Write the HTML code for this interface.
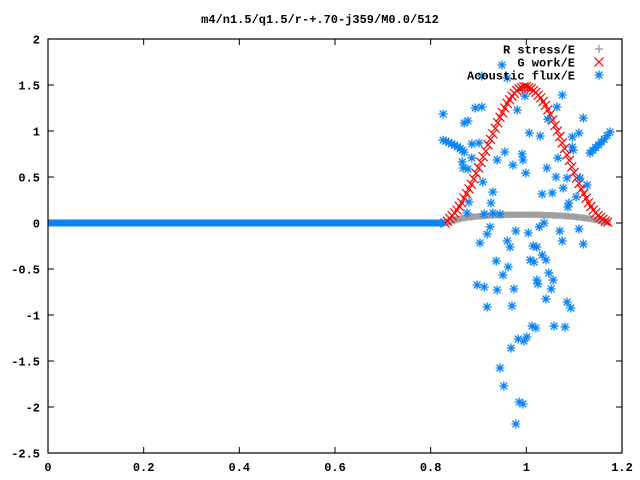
<!DOCTYPE html>
<html><head><meta charset="utf-8"><style>
html,body{margin:0;padding:0;background:#fff}
svg{display:block}
text{font-family:"Liberation Mono",monospace;font-size:12px;font-weight:bold;fill:#000}
</style></head><body>
<svg id="chart" width="640" height="480" xmlns="http://www.w3.org/2000/svg">
<rect x="0" y="0" width="640" height="480" fill="#fff"/>
<text x="320" y="23" text-anchor="middle">m4/n1.5/q1.5/r-+.70-j359/M0.0/512</text>
<g id="axes"></g>
<g id="series-grey"></g>
<g id="series-red"></g>
<g id="series-blue"></g>
<g id="legend"></g>
<rect x="48" y="39" width="574" height="414" fill="none" stroke="#000" stroke-width="1.2"/>
</svg>
<script>
const xTicks=[0,0.2,0.4,0.6,0.8,1,1.2];
const xTickLabels=["0","0.2","0.4","0.6","0.8","1","1.2"];
const yTicks=[2,1.5,1,0.5,0,-0.5,-1,-1.5,-2,-2.5];
const yTickLabels=["2","1.5","1","0.5","0","-0.5","-1","-1.5","-2","-2.5"];
const curveX=[0.83,0.835,0.84,0.845,0.85,0.855,0.86,0.865,0.87,0.875,0.88,0.885,0.89,0.895,0.90,0.905,0.91,0.915,0.92,0.925,0.93,0.935,0.94,0.945,0.95,0.955,0.96,0.965,0.97,0.975,0.98,0.985,0.99,0.995,1.00,1.005,1.01,1.015,1.02,1.025,1.03,1.035,1.04,1.045,1.05,1.055,1.06,1.065,1.07,1.075,1.08,1.085,1.09,1.095,1.10,1.105,1.11,1.115,1.12,1.125,1.13,1.135,1.14,1.145,1.15,1.155,1.16,1.165,1.17];
const gWork=[0.00,0.02,0.05,0.08,0.11,0.14,0.18,0.22,0.27,0.32,0.37,0.42,0.48,0.54,0.60,0.66,0.72,0.78,0.85,0.91,0.97,1.03,1.09,1.15,1.20,1.25,1.30,1.34,1.38,1.41,1.44,1.46,1.47,1.48,1.48,1.47,1.46,1.44,1.42,1.39,1.36,1.32,1.28,1.23,1.18,1.12,1.06,1.00,0.94,0.87,0.81,0.74,0.68,0.61,0.55,0.49,0.43,0.37,0.32,0.27,0.22,0.18,0.14,0.11,0.08,0.06,0.04,0.02,0.01];
const rStress=[0.00,0.01,0.02,0.025,0.03,0.04,0.045,0.05,0.055,0.06,0.06,0.065,0.07,0.07,0.07,0.075,0.075,0.08,0.08,0.08,0.085,0.085,0.085,0.085,0.085,0.09,0.09,0.09,0.09,0.09,0.09,0.09,0.09,0.09,0.09,0.09,0.09,0.09,0.09,0.09,0.09,0.085,0.085,0.085,0.085,0.085,0.08,0.08,0.08,0.08,0.075,0.075,0.07,0.07,0.07,0.065,0.06,0.06,0.055,0.05,0.05,0.045,0.04,0.035,0.03,0.025,0.02,0.015,0.01];
const flatX=[0,0.83];
const flatY=[0,0];
const fluxX=[0.949,0.907,0.960,0.826,0.893,0.907,0.878,0.870,0.981,0.997,1.075,1.064,1.045,1.119,1.006,1.029,1.096,1.110,0.886,0.901,0.955,0.991,0.939,0.993,0.886,0.866,0.868,0.878,0.972,1.043,0.999,1.066,1.096,1.098,1.062,1.085,1.112,1.077,1.127,0.909,0.930,1.033,1.054,0.880,0.926,1.104,1.089,1.087,0.876,0.912,0.930,0.945,
0.826,0.832,0.838,0.844,0.850,0.856,0.862,0.866,0.870,
1.133,1.139,1.145,1.151,1.157,1.163,1.169,1.175,
0.924,0.918,0.903,0.978,1.004,1.027,1.037,1.070,1.110,0.960,0.966,1.014,1.022,1.075,1.119,1.033,0.937,0.962,1.008,1.016,1.041,0.951,1.047,1.022,1.056,1.024,0.897,0.912,0.939,0.974,1.052,1.041,1.085,1.093,0.918,0.970,1.012,1.020,1.058,1.081,0.983,0.995,1.001,0.968,0.945,0.953,0.985,0.993,0.978];
const fluxY=[1.717,1.598,1.576,1.185,1.25,1.261,1.109,1.087,1.228,1.380,1.391,1.261,1.130,1.141,0.978,0.946,0.935,0.978,0.859,0.870,0.772,0.750,0.685,0.685,0.707,0.663,0.598,0.587,0.630,0.598,0.543,0.707,0.826,0.793,0.5,0.489,0.489,0.380,0.413,0.446,0.337,0.315,0.326,0.228,0.217,0.283,0.217,0.174,0.109,0.098,0.109,0.098,
0.90,0.89,0.875,0.86,0.845,0.83,0.81,0.79,0.77,
0.76,0.79,0.82,0.85,0.88,0.91,0.95,0.99,
-0.043,-0.120,-0.217,-0.087,-0.109,-0.043,0.0,-0.087,-0.065,-0.196,-0.261,-0.25,-0.261,-0.196,-0.228,-0.348,-0.413,-0.478,-0.402,-0.424,-0.402,-0.565,-0.543,-0.620,-0.620,-0.663,-0.674,-0.696,-0.728,-0.717,-0.717,-0.826,-0.859,-0.924,-0.913,-0.902,-1.120,-1.141,-1.120,-1.130,-1.261,-1.283,-1.239,-1.359,-1.576,-1.772,-1.946,-1.967,-2.185];

const NS="http://www.w3.org/2000/svg";
const X0=48,X1=622,Y0=453,Y1=39,xmin=0,xmax=1.2,ymin=-2.5,ymax=2;
function sx(v){return X0+(v-xmin)/(xmax-xmin)*(X1-X0);}
function sy(v){return Y0-(v-ymin)/(ymax-ymin)*(Y0-Y1);}
function mk(tag,attrs,parent){const e=document.createElementNS(NS,tag);for(const k in attrs)e.setAttribute(k,attrs[k]);parent.appendChild(e);return e;}

const axes=document.getElementById('axes');
xTicks.forEach((t,i)=>{
  const x=sx(t);
  const a=mk('line',{x1:x,x2:x,y1:Y0,y2:Y0-6,stroke:'#000'},axes);
  
  
  const b=mk('line',{x1:x,x2:x,y1:Y1,y2:Y1+6,stroke:'#000'},axes);
  
  
  const l=mk('text',{x:x,y:471,'text-anchor':'middle'},axes);
  l.textContent=xTickLabels[i];
  
  
});
yTicks.forEach((t,i)=>{
  const y=sy(t);
  const a=mk('line',{x1:X0,x2:X0+6,y1:y,y2:y,stroke:'#000'},axes);
  
  
  const b=mk('line',{x1:X1,x2:X1-6,y1:y,y2:y,stroke:'#000'},axes);
  
  
  const l=mk('text',{x:40,y:y+4.5,'text-anchor':'end'},axes);
  l.textContent=yTickLabels[i];
  
  
});

function plus(g,x,y,c,s){return mk('path',{d:`M${x-s} ${y}H${x+s}M${x} ${y-s}V${y+s}`,stroke:c,'stroke-width':1.5,fill:'none'},g);}
function cross(g,x,y,c,s){return mk('path',{d:`M${x-s} ${y-s}L${x+s} ${y+s}M${x-s} ${y+s}L${x+s} ${y-s}`,stroke:c,'stroke-width':1.2,fill:'none'},g);}
function star(g,x,y,c,s){return mk('path',{d:`M${x-s} ${y}H${x+s}M${x} ${y-s}V${y+s}M${x-s*0.75} ${y-s*0.75}L${x+s*0.75} ${y+s*0.75}M${x-s*0.75} ${y+s*0.75}L${x+s*0.75} ${y-s*0.75}`,stroke:c,'stroke-width':1.3,fill:'none'},g);}

const BLUE='#0a84f5',RED='#ff0000',GREY='#a0a0a0';
const gg=document.getElementById('series-grey');
curveX.forEach((v,i)=>{
  const p=mk('rect',{x:sx(v)-3,y:sy(rStress[i])-3,width:6,height:6,fill:GREY},gg);
  
  
});
const gr=document.getElementById('series-red');
curveX.forEach((v,i)=>{
  const p=cross(gr,sx(v),sy(gWork[i]),RED,4.5);
  
  
});
const gb=document.getElementById('series-blue');
const flat=mk('line',{x1:sx(flatX[0]),x2:sx(flatX[1]),y1:sy(flatY[0]),y2:sy(flatY[1]),stroke:BLUE,'stroke-width':7},gb);


fluxX.forEach((v,i)=>{
  const p=star(gb,sx(v),sy(fluxY[i]),BLUE,4.5);
  
  
});

const lg=document.getElementById('legend');
const legendNames=["R stress/E","G work/E","Acoustic flux/E"];
const legendYs=[49,62,75];
legendNames.forEach((n,i)=>{
  const t=mk('text',{x:575,y:legendYs[i]+4.5,'text-anchor':'end'},lg);
  t.textContent=n;
  
  
  let m;
  if(i===0)m=plus(lg,599,legendYs[i],GREY,4);
  else if(i===1)m=cross(lg,599,legendYs[i],RED,4.5);
  else m=star(lg,599,legendYs[i],BLUE,4.5);
  
  
});
</script>
</body></html>
